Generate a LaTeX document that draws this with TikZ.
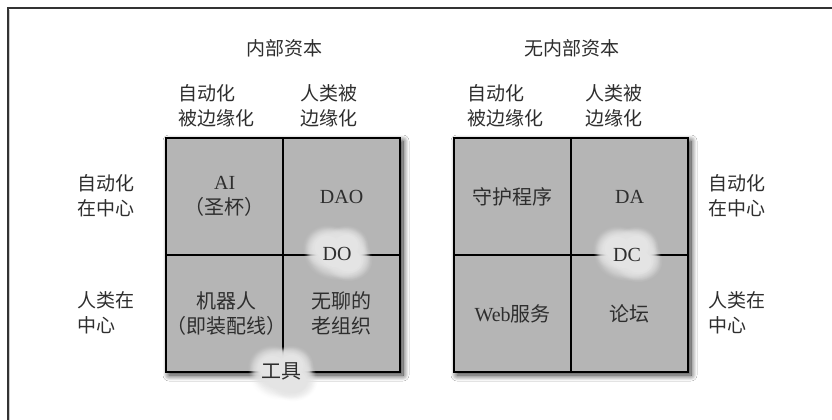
\documentclass[tikz,border=0pt]{standalone}
\usepackage{fontspec}
\setmainfont{Liberation Serif}
\newfontfamily\cjk{Noto Sans CJK SC}
\usetikzlibrary{shadows.blur,fadings}
\definecolor{cellgray}{HTML}{B5B5B5}
\definecolor{cloudc}{HTML}{E4E4E4}
\definecolor{txt}{HTML}{2E2E2E}
\tikzset{
  lbl/.style={align=left, text=txt, font=\cjk\fontsize{19}{25}\selectfont, inner sep=0, anchor=west},
  ttl/.style={text=txt, font=\cjk\fontsize{19}{25}\selectfont, inner sep=0},
  cell/.style={draw=black, line width=2.3pt, fill=cellgray, minimum width=117pt, minimum height=117pt, inner sep=0, anchor=north west, text=txt, align=center, font=\fontsize{20}{25}\selectfont},
  ctext/.style={text=txt, inner sep=0, font=\fontsize{20}{25}\selectfont},
  blob/.style={fill=cloudc, path fading=circle with fuzzy edge 20 percent},
  softblob/.style={fill=cloudc, fill opacity=0.3, path fading=circle with fuzzy edge 20 percent},
  gridshadow/.style={fill=cellgray, blur shadow={shadow xshift=4pt, shadow yshift=-4pt, shadow blur steps=12, shadow blur radius=6pt, shadow opacity=85}},
}
\newcommand\mypuff[4]{% x y rx ry
  \fill[blob] (#1,#2) ellipse ({#3*0.72} and {#4*0.72});
  \fill[softblob] (#1,#2) ellipse ({#3*0.82} and {#4*0.82});
  \fill[softblob] (#1,#2) ellipse ({#3*0.92} and {#4*0.92});
  \fill[softblob] (#1,#2) ellipse ({#3*1.02} and {#4*1.02});
  \fill[softblob] (#1,#2) ellipse ({#3*1.12} and {#4*1.12});
}
\newcommand\mycloud[2]{%
  \mypuff{#1}{#2}{30}{24}
  \mypuff{#1-10}{#2-6}{22}{20}
  \mypuff{#1+11}{#2+7}{22}{19}
  \mypuff{#1+9}{#2-8}{20}{18}
}
\begin{document}
\begin{tikzpicture}[x=1pt,y=-1pt]
\useasboundingbox (0,0) rectangle (832,420);
\fill[white] (0,0) rectangle (832,420);
% frame
\draw[line width=1.4pt, black!80] (8,421) -- (8,8) -- (833,8);
\draw[line width=0.8pt, black!20] (9.8,421) -- (9.8,9.8);

% titles
\node[ttl] (t1) at (284,48) {内部资本};
\node[ttl] (t2) at (572,48) {无内部资本};

% column heads
\node[lbl] (h1) at (178,106) {自动化\\被边缘化};
\node[lbl] (h2) at (300,106) {人类被\\边缘化};
\node[lbl] (h3) at (467,106) {自动化\\被边缘化};
\node[lbl] (h4) at (585,106) {人类被\\边缘化};

% row heads
\node[lbl] (r1) at (77,196) {自动化\\在中心};
\node[lbl] (r2) at (77,313) {人类在\\中心};
\node[lbl] (r3) at (708,196) {自动化\\在中心};
\node[lbl] (r4) at (708,313) {人类在\\中心};

% left grid
\fill[gridshadow] (165,137) rectangle (399,371);
\node[cell] (ai)  at (165,137) {AI\\{\cjk （圣杯）}};
\node[cell] (dao) at (282,137) {DAO};
\node[cell] (rob) at (165,254) {{\cjk 机器人}\\{\cjk （即装配线）}};
\node[cell] (old) at (282,254) {{\cjk 无聊的}\\{\cjk 老组织}};

% right grid
\fill[gridshadow] (453,137) rectangle (687,371);
\node[cell] (dmn) at (453,137) {{\cjk 守护程序}};
\node[cell] (da)  at (570,137) {DA};
\node[cell] (web) at (453,254) {Web{\cjk 服务}};
\node[cell] (frm) at (570,254) {{\cjk 论坛}};

% clouds
\mycloud{337}{253}
\mycloud{282}{373}
\mycloud{627}{254}
\node[ctext] (do) at (337,254) {DO};
\node[ctext] (tool) at (281,371) {\cjk 工具};
\node[ctext] (dc) at (627,255) {DC};
\end{tikzpicture}
\end{document}
